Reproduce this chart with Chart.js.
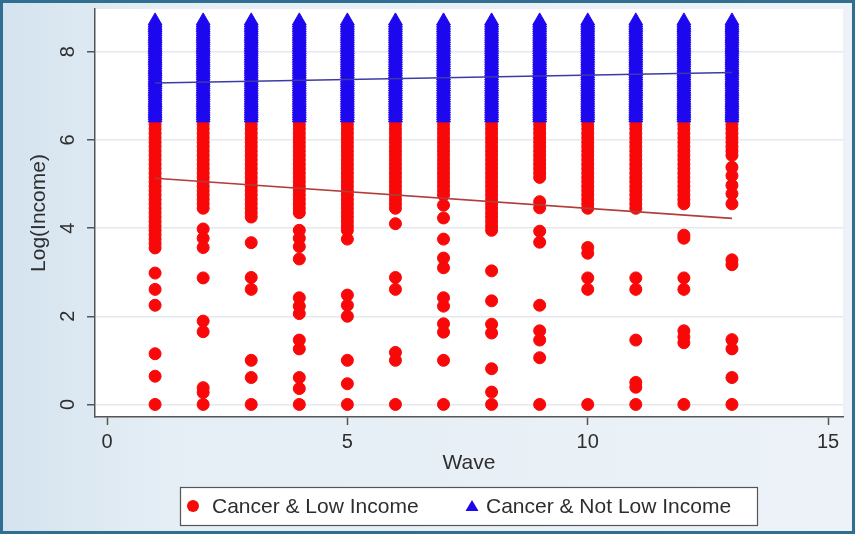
<!DOCTYPE html>
<html>
<head>
<meta charset="utf-8">
<script src="https://cdn.jsdelivr.net/npm/chart.js@4.4.1/dist/chart.umd.min.js"></script>
<style>
  html, body { margin: 0; padding: 0; background: #e6eef5; }
  #wrap { width: 855px; height: 534px; }
</style>
</head>
<body>
<div id="wrap"><canvas id="waveChart" width="855" height="534"></canvas></div>
<script>
// ============================================
// Log(Income) by Wave - scatter with fitted lines
// ============================================

const waves = [1, 2, 3, 4, 5, 6, 7, 8, 9, 10, 11, 12, 13];
const xTicks = [0, 5, 10, 15];
const yTicks = [0, 2, 4, 6, 8];

// dense band of "not low income" values, same in every wave
const blueLevels = [8.7, 8.65, 8.6, 8.55, 8.5, 8.45, 8.4, 8.35, 8.3, 8.25, 8.2, 8.15,
                    8.1, 8.05, 8.0, 7.95, 7.9, 7.85, 7.8, 7.75, 7.7, 7.65, 7.6, 7.55,
                    7.5, 7.45, 7.4, 7.35, 7.3, 7.25, 7.2, 7.15, 7.1, 7.05, 7.0, 6.95,
                    6.9, 6.85, 6.8, 6.75, 6.7, 6.65, 6.6, 6.55, 6.5];

// dense band of "low income" values, cut off per wave
const redLevels = [6.35, 6.25, 6.15, 6.05, 5.95, 5.85, 5.75, 5.65, 5.55, 5.45, 5.35,
                   5.25, 5.15, 5.05, 4.95, 4.85, 4.75, 4.65, 4.55, 4.45, 4.35, 4.25,
                   4.15, 4.05, 3.95, 3.85, 3.75, 3.65, 3.55];
const redDenseBottom = [3.55, 4.45, 4.25, 4.35, 4.05, 4.45, 4.75, 3.95, 5.15, 4.45, 4.45, 4.55, 5.65];

// scattered low values below the dense band
const redScatter = [
    [2.98, 2.61, 2.25, 1.15, 0.64, 0],
    [3.98, 3.77, 3.56, 2.87, 1.89, 1.65, 0.38, 0.27, 0],
    [3.67, 2.88, 2.61, 1.0, 0.61, 0],
    [3.95, 3.77, 3.58, 3.3, 2.42, 2.23, 2.06, 1.46, 1.26, 0.61, 0.36, 0],
    [3.95, 3.75, 2.48, 2.25, 2.0, 1.0, 0.47, 0],
    [4.1, 2.88, 2.61, 1.18, 1.0, 0],
    [4.52, 4.23, 3.75, 3.32, 3.1, 2.42, 2.23, 1.83, 1.64, 1.0, 0],
    [3.03, 2.35, 1.82, 1.62, 0.81, 0.28, 0],
    [4.6, 4.46, 3.93, 3.68, 2.25, 1.67, 1.46, 1.06, 0],
    [3.56, 3.43, 2.87, 2.61, 0],
    [2.87, 2.61, 1.46, 0.5, 0.39, 0],
    [3.84, 3.77, 2.87, 2.61, 1.67, 1.53, 1.4, 0],
    [5.38, 5.19, 4.97, 4.78, 4.55, 3.28, 3.17, 1.47, 1.26, 0.61, 0]
];

// fitted lines
const fitX = [1, 13];
const redFit = [5.13, 4.22];
const blueFit = [7.29, 7.53];

const RED = '#f80808';
const BLUE = '#1e08ee';
const FONT = "'Liberation Sans', Arial, sans-serif";
const TEXT = '#2e2e2e';

// build point lists
const redPoints = [];
const bluePoints = [];
waves.forEach((w, i) => {
    redLevels.filter(v => v >= redDenseBottom[i] - 1e-6).forEach(v => redPoints.push({ x: w, y: v }));
    redScatter[i].forEach(v => redPoints.push({ x: w, y: v }));
    blueLevels.forEach(v => bluePoints.push({ x: w, y: v }));
});

// Background: light frame, teal border, white plot region
const backdrop = {
    id: 'backdrop',
    beforeDraw(chart) {
        const { ctx, width, height, chartArea } = chart;
        ctx.save();
        const g = ctx.createLinearGradient(0, 0, width, 0);
        g.addColorStop(0, '#d4e3ef');
        g.addColorStop(0.2, '#e5eef5');
        g.addColorStop(1, '#ecf2f8');
        ctx.fillStyle = g;
        ctx.fillRect(0, 0, width, height);
        ctx.fillStyle = '#ffffff';
        ctx.fillRect(chartArea.left, chartArea.top, chartArea.right - chartArea.left, chartArea.bottom - chartArea.top);
        ctx.strokeStyle = '#2f6f8f';
        ctx.lineWidth = 3;
        ctx.strokeRect(1.5, 1.5, width - 3, height - 3);
        ctx.restore();
    }
};

// Boxed legend at the bottom (Stata style)
const boxLegend = {
    id: 'boxLegend',
    afterDraw(chart) {
        const { ctx } = chart;
        const box = { x: 180, y: 487, w: 577, h: 38 };
        ctx.save();
        ctx.fillStyle = '#ffffff';
        ctx.fillRect(box.x, box.y, box.w, box.h);
        ctx.strokeStyle = '#555555';
        ctx.lineWidth = 1.2;
        ctx.strokeRect(box.x + 0.5, box.y + 0.5, box.w, box.h);

        const cy = box.y + box.h / 2;
        const items = chart.data.datasets.filter(d => d.type === 'scatter');
        const slots = [{ mx: 193, tx: 212 }, { mx: 472, tx: 486 }];
        items.forEach((ds, i) => {
            const s = slots[i];
            ctx.fillStyle = ds.backgroundColor;
            ctx.beginPath();
            if (ds.pointStyle === 'triangle') {
                ctx.moveTo(s.mx, cy - 6);
                ctx.lineTo(s.mx + 6.5, cy + 5);
                ctx.lineTo(s.mx - 6.5, cy + 5);
            } else {
                ctx.arc(s.mx, cy, 6, 0, Math.PI * 2);
            }
            ctx.closePath();
            ctx.fill();
            ctx.fillStyle = TEXT;
            ctx.font = '21px ' + FONT;
            ctx.textBaseline = 'middle';
            ctx.textAlign = 'left';
            ctx.fillText(ds.label, s.tx, cy + 1);
        });
        ctx.restore();
    }
};

const ctx = document.getElementById('waveChart').getContext('2d');

new Chart(ctx, {
    data: {
        datasets: [
            {
                type: 'line',
                label: 'Fit not low',
                data: fitX.map((x, i) => ({ x: x, y: blueFit[i] })),
                borderColor: '#3b3ba6',
                borderWidth: 1.6,
                pointRadius: 0,
                fill: false,
                order: 0
            },
            {
                type: 'line',
                label: 'Fit low',
                data: fitX.map((x, i) => ({ x: x, y: redFit[i] })),
                borderColor: '#b23c3c',
                borderWidth: 1.6,
                pointRadius: 0,
                fill: false,
                order: 0
            },
            {
                type: 'scatter',
                label: 'Cancer & Low Income',
                data: redPoints,
                pointStyle: 'circle',
                pointRadius: 6,
                backgroundColor: RED,
                borderColor: RED,
                borderWidth: 1,
                order: 2
            },
            {
                type: 'scatter',
                label: 'Cancer & Not Low Income',
                data: bluePoints,
                pointStyle: 'triangle',
                pointRadius: 8,
                backgroundColor: BLUE,
                borderColor: BLUE,
                borderWidth: 1,
                order: 1
            }
        ]
    },
    options: {
        responsive: false,
        animation: false,
        layout: { padding: { left: 0, top: 4, right: 12, bottom: 54 } },
        plugins: {
            legend: { display: false },
            tooltip: { enabled: false }
        },
        scales: {
            x: {
                type: 'linear',
                min: -0.25,
                max: 15.31,
                afterBuildTicks: (scale) => { scale.ticks = xTicks.map(v => ({ value: v })); },
                afterFit: (scale) => {
                    scale.height = 63;
                    scale.paddingLeft = 0;
                    scale.paddingRight = 0;
                },
                border: { display: true, color: '#555555', width: 1.5 },
                grid: { drawOnChartArea: false, drawTicks: true, tickLength: 8, tickColor: '#555555', tickWidth: 1.5 },
                ticks: { color: TEXT, font: { family: FONT, size: 20 }, padding: 5.5, maxRotation: 0 },
                title: { display: true, text: 'Wave', color: TEXT, font: { family: FONT, size: 21 }, padding: { top: 0, bottom: 4.4 } }
            },
            y: {
                type: 'linear',
                min: -0.285,
                max: 8.97,
                afterBuildTicks: (scale) => { scale.ticks = yTicks.map(v => ({ value: v })); },
                afterFit: (scale) => {
                    scale.width = 95;
                    scale.paddingTop = 0;
                    scale.paddingBottom = 0;
                },
                border: { display: true, color: '#555555', width: 1.5 },
                grid: { color: '#e3e9ef', lineWidth: 1.5, drawTicks: true, tickLength: 8, tickColor: '#555555', tickWidth: 1.5 },
                ticks: { color: TEXT, font: { family: FONT, size: 20 }, padding: 12.9, minRotation: 90, maxRotation: 90, crossAlign: 'center' },
                title: { display: true, text: 'Log(Income)', color: TEXT, font: { family: FONT, size: 21 }, padding: { top: 26.4, bottom: 0 } }
            }
        }
    },
    plugins: [backdrop, boxLegend]
});
</script>
</body>
</html>
